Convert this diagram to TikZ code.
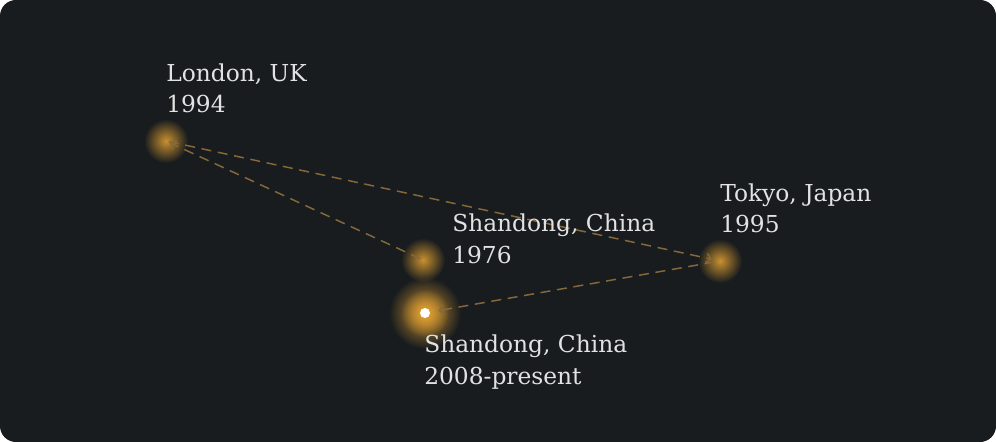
\documentclass[tikz,border=0pt]{standalone}
\usepackage{fontspec}
\setmainfont{DejaVu Serif}
\usetikzlibrary{positioning, arrows.meta, fadings}

\definecolor{bgdark}{HTML}{181C1F}
\definecolor{glowgold}{HTML}{E9A633}
\definecolor{pathgold}{HTML}{87683A}
\definecolor{labelgray}{HTML}{E2E2E2}

\tikzfading[name=glowfade, inner color=transparent!15, outer color=transparent!100]

\tikzset{
  city/.style={circle, inner sep=0pt, minimum size=4pt},
  glow/.style={fill=glowgold, path fading=glowfade},
  place/.style={text=labelgray, font=\fontsize{17.5}{23.5}\selectfont,
    align=left, inner sep=0pt, anchor=base west},
  route/.style={draw=pathgold, line width=1.1pt, dash pattern=on 7.5pt off 5pt,
    -{Straight Barb[length=3.5pt,width=7pt]}},
}

\begin{document}
\begin{tikzpicture}[x=0.75pt, y=-0.75pt]
\useasboundingbox (0,0) rectangle (996,442);
\fill[white] (0,0) rectangle (996,442);
\fill[bgdark, rounded corners=12pt] (0,0) rectangle (996,442);

\node[city] (london) at (166,141) {};
\node[city] (shan) at (423,260) {};
\node[city] (tokyo) at (720,261) {};
\node[city] (now) at (425,313) {};

% glows
\fill[glow] (london) circle (22);
\fill[glow] (shan) circle (22);
\fill[glow] (tokyo) circle (22);
\fill[glow] (now) circle (36);
\fill[glow] (now) circle (24);

% routes
\draw[route, shorten >=1pt] (shan) -- (london);
\draw[route, shorten >=4pt] (london) -- (tokyo);
\draw[route, shorten <=2pt, shorten >=8pt] (tokyo) -- (now);

\fill[white] (now) circle (5);

% labels
\node[place] (londonlbl) at (166,113) {London, UK\\1994};
\node[place] (shanlbl) at (452,263) {Shandong, China\\1976};
\node[place] (tokyolbl) at (720,233) {Tokyo, Japan\\1995};
\node[place] (nowlbl) at (424,384) {Shandong, China\\2008-present};
\end{tikzpicture}
\end{document}
